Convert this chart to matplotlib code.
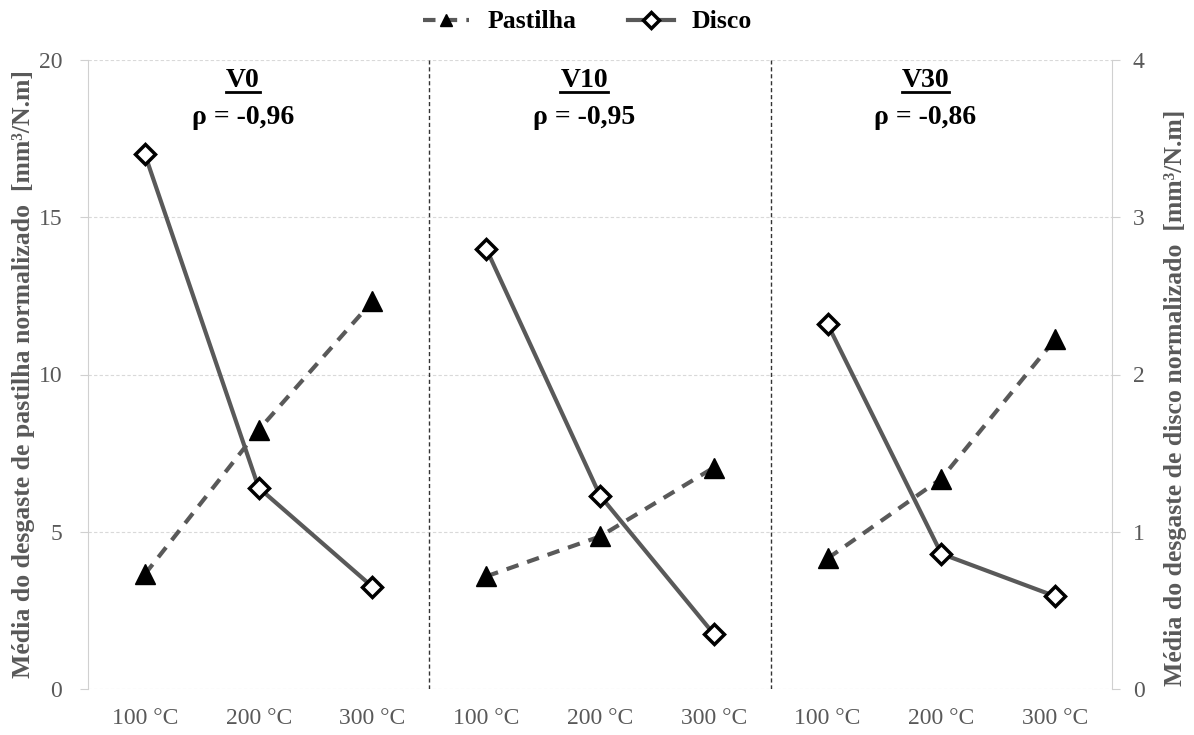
import numpy as np
import matplotlib
matplotlib.use('Agg')
from matplotlib import pyplot as plt
from matplotlib.lines import Line2D

plt.rcParams['font.family'] = ['Liberation Serif', 'DejaVu Serif']

categories = ['100 °C', '200 °C', '300 °C'] * 3
groups = ['V0', 'V10', 'V30']
rho = ['ρ = -0,96', 'ρ = -0,95', 'ρ = -0,86']
pastilha = [3.65, 8.24, 12.33, 3.58, 4.85, 7.04, 4.15, 6.69, 11.12]
disco = [3.40, 1.28, 0.65, 2.80, 1.23, 0.35, 2.32, 0.86, 0.59]

grey = '#595959'
x = np.arange(len(categories))

fig = plt.figure(figsize=(11.94, 7.35), dpi=100)
ax = fig.add_axes([88/1194, 46/735, (1112-88)/1194, (689-60)/735])
ax2 = ax.twinx()

for g in range(3):
    s = slice(3*g, 3*g+3)
    ax.plot(x[s], pastilha[s], color=grey, lw=3, ls=(0, (3, 2.2)),
            marker='^', ms=14, mfc='black', mec='black', zorder=3)
    ax2.plot(x[s], disco[s], color=grey, lw=3, ls='-',
             marker='D', ms=10.5, mfc='white', mec='black', mew=2.5, zorder=3)

for xv in (2.5, 5.5):
    ax.axvline(xv, color='#333333', lw=1, ls=(0, (3, 2)), zorder=1)

ax.set_xlim(-0.5, 8.5)
ax.set_ylim(0, 20)
ax2.set_ylim(0, 4)
ax.set_yticks([0, 5, 10, 15, 20])
ax2.set_yticks([0, 1, 2, 3, 4])
ax.set_xticks(x)
ax.set_xticklabels(categories)
ax.yaxis.grid(True, color='#d9d9d9', ls=(0, (3, 2)), lw=0.8)
ax.set_axisbelow(True)

for a in (ax, ax2):
    for sp in ('top', 'bottom'):
        a.spines[sp].set_visible(False)
    a.spines['left'].set_color('#d0d0d0')
    a.spines['right'].set_color('#d0d0d0')
    a.tick_params(axis='x', length=0, labelcolor=grey, labelsize=17, pad=14)
ax.tick_params(axis='y', colors='#d0d0d0', labelcolor=grey, labelsize=17, length=6, pad=12.5)
ax2.tick_params(axis='y', colors='#d0d0d0', labelcolor=grey, labelsize=17, length=6, pad=9)
ax.spines['right'].set_visible(False)
ax2.spines['left'].set_visible(False)

ax.set_ylabel('Média do desgaste de pastilha normalizado  [mm³/N.m]',
              color=grey, fontsize=18.5, fontweight='bold')
ax.yaxis.set_label_coords(-0.052, 0.5)
ax2.set_ylabel('Média do desgaste de disco normalizado  [mm³/N.m]',
               color=grey, fontsize=18.5, fontweight='bold')
ax2.yaxis.set_label_coords(1.051, 0.463)

titles = []
for g in range(3):
    t = ax.text(3*g + 0.86, 19.36, groups[g], ha='center', va='center',
                fontsize=20, fontweight='bold')
    ax.text(3*g + 0.86, 18.16, rho[g], ha='center', va='center',
            fontsize=20, fontweight='bold')
    titles.append(t)

handles = [Line2D([], [], color=grey, lw=3, ls=(0, (3, 2.2)), marker='^', ms=9,
                  mfc='black', mec='black'),
           Line2D([], [], color=grey, lw=3, marker='D', ms=8.5, mfc='white',
                  mec='black', mew=2.5)]
fig.legend(handles, ['Pastilha', 'Disco'], loc='center', ncol=2,
           bbox_to_anchor=(0.492, 1 - 22/735), frameon=False,
           prop={'weight': 'bold', 'size': 18.5}, handlelength=1.8,
           handletextpad=0.7, columnspacing=2.0)

# underline the group titles
fig.canvas.draw()
r = fig.canvas.get_renderer()
for t in titles:
    bb = t.get_window_extent(r)
    fig.add_artist(Line2D([bb.x0 / fig.bbox.width, bb.x1 / fig.bbox.width],
                          [(bb.y0 + 1) / fig.bbox.height] * 2,
                          color='black', lw=2, transform=fig.transFigure))

fig.savefig('out.png', dpi=100)
